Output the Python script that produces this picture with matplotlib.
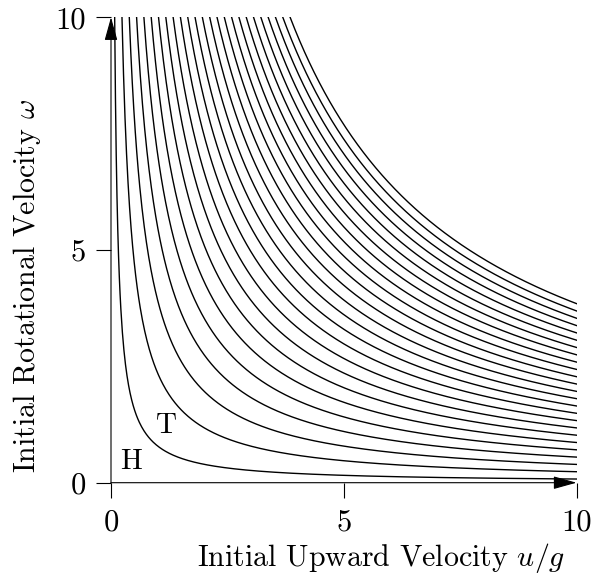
import numpy as np
import matplotlib
matplotlib.use("Agg")
import matplotlib.pyplot as plt

plt.rcParams['font.family'] = 'serif'
plt.rcParams['font.serif'] = ['cmr10']
plt.rcParams['mathtext.fontset'] = 'cm'
plt.rcParams['axes.unicode_minus'] = False

# products (u/g)*omega on each heads/tails boundary
levels = [0.79, 2.36, 3.93, 5.50, 7.07, 8.64, 10.21, 11.78, 13.35, 14.92,
          16.49, 18.06, 19.63, 21.21, 22.78, 24.35, 25.92, 27.49, 29.06,
          30.63, 32.20, 33.77, 35.34, 36.91, 38.48]
xticks = [0, 5, 10]
yticks = [0, 5, 10]
region_labels = ["H", "T"]
region_pos = [(0.43, 0.45), (1.2, 1.22)]

W, H = 593, 580
ax_w, ax_h = 576.5 - 111, 482.7 - 17.3
fig = plt.figure(figsize=(W / 100, H / 100), dpi=100)
ax = fig.add_axes([111 / W, 1 - 482.7 / H, ax_w / W, ax_h / H])

for c in levels:
    x = np.linspace(c / 10, 10, 600)
    ax.plot(x, c / x, color='k', lw=1.0)

ax.set_xlim(0, 10)
ax.set_ylim(0, 10)
for s in ax.spines.values():
    s.set_visible(False)
ax.set_xticks(xticks)
ax.set_yticks(yticks)
ax.tick_params(direction='out', length=11, width=0.8, labelsize=22)
ax.tick_params(axis='x', pad=8)
ax.tick_params(axis='y', pad=7)

arrow = dict(arrowstyle='-|>,head_length=0.72,head_width=0.2', color='k',
             lw=0.8, shrinkA=0, shrinkB=0, mutation_scale=20)
ax.annotate('', xy=(10, 0), xytext=(0, 0), arrowprops=arrow, annotation_clip=False)
ax.annotate('', xy=(0, 10), xytext=(0, 0), arrowprops=arrow, annotation_clip=False)

for lab, (px, py) in zip(region_labels, region_pos):
    ax.text(px, py, lab, fontsize=21, ha='center', va='center')

ax.set_xlabel(r"Initial Upward Velocity $u/g$", fontsize=21.5)
ax.set_ylabel(r"Initial Rotational Velocity $\omega$", fontsize=21.5)
ax.xaxis.set_label_coords((381 - 111) / ax_w, -(541 - 482.7) / ax_h)
ax.yaxis.set_label_coords(-(111 - 43) / ax_w, (482.7 - 286) / ax_h)

fig.savefig("out.png", dpi=100)
